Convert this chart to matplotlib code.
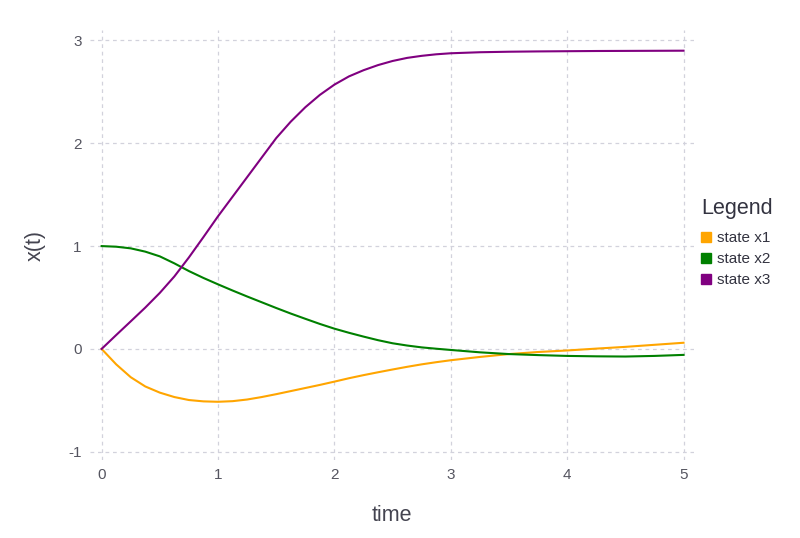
import matplotlib
matplotlib.use("Agg")
import matplotlib.pyplot as plt
from matplotlib.lines import Line2D

plt.rcParams['font.family'] = ['Liberation Sans', 'DejaVu Sans']

time = [0, 0.125, 0.25, 0.375, 0.5, 0.625, 0.75, 0.875, 1.0, 1.125, 1.25, 1.375, 1.5,
        1.625, 1.75, 1.875, 2.0, 2.125, 2.25, 2.375, 2.5, 2.625, 2.75, 2.875, 3.0,
        3.25, 3.5, 3.75, 4.0, 4.25, 4.5, 4.75, 5.0]
state_x1 = [0, -0.15, -0.275, -0.365, -0.425, -0.468, -0.497, -0.51, -0.514, -0.508, -0.492, -0.468, -0.44,
            -0.41, -0.38, -0.35, -0.318, -0.285, -0.255, -0.227, -0.20, -0.174, -0.15, -0.129, -0.11,
            -0.078, -0.05, -0.03, -0.015, 0.003, 0.02, 0.04, 0.06]
state_x2 = [1.0, 0.994, 0.978, 0.946, 0.90, 0.832, 0.757, 0.69, 0.628, 0.568, 0.51, 0.454, 0.398,
            0.344, 0.293, 0.243, 0.197, 0.157, 0.12, 0.085, 0.055, 0.033, 0.015, 0.002, -0.01,
            -0.033, -0.05, -0.06, -0.068, -0.072, -0.074, -0.068, -0.058]
state_x3 = [0, 0.135, 0.268, 0.402, 0.545, 0.705, 0.89, 1.088, 1.29, 1.48, 1.67, 1.86, 2.05,
            2.21, 2.35, 2.47, 2.57, 2.65, 2.71, 2.76, 2.80, 2.83, 2.85, 2.865, 2.875,
            2.885, 2.89, 2.893, 2.895, 2.897, 2.898, 2.899, 2.90]

names = ['state x1', 'state x2', 'state x3']
colors = ['#FFA500', '#008000', '#800080']
xticks = [0, 1, 2, 3, 4, 5]
yticks = [-1, 0, 1, 2, 3]

fig = plt.figure(figsize=(8, 5.38), dpi=100)
ax = fig.add_axes([0.1125, 0.145, 0.755, 0.799])

for ys, c in zip([state_x1, state_x2, state_x3], colors):
    ax.plot(time, ys, color=c, lw=1.5, zorder=3, solid_joinstyle='round')

ax.set_xlim(-0.1, 5.09)
ax.set_ylim(-1.08, 3.1)
ax.set_xticks(xticks)
ax.set_yticks(yticks)
ax.set_xticklabels([str(t) for t in xticks])
ax.set_yticklabels([str(t) for t in yticks])
ax.tick_params(length=0, labelsize=11, labelcolor='#555560', pad=6)
for s in ax.spines.values():
    s.set_visible(False)
ax.grid(True, color='#d2d2dc', linestyle=(0, (3, 3)), lw=0.9)
ax.set_axisbelow(True)

ax.set_xlabel('time', fontsize=15.5, color='#444450', labelpad=16)
ax.set_ylabel('x(t)', fontsize=15.5, color='#444450', labelpad=16)

handles = [Line2D([], [], marker='s', ls='none', color=c, markersize=7.2) for c in colors]
leg = fig.legend(handles, names, loc='upper left', bbox_to_anchor=(0.859, 0.658),
                 frameon=False, title='Legend', fontsize=11, title_fontsize=15.5,
                 handletextpad=0.45, labelspacing=0.44, handlelength=0.6)
leg._legend_box.align = 'left'
leg._legend_box.sep = 0.38 * 11 + 5
leg.get_title().set_color('#333340')
for t in leg.get_texts():
    t.set_color('#333340')

fig.savefig('out.png', dpi=100)
